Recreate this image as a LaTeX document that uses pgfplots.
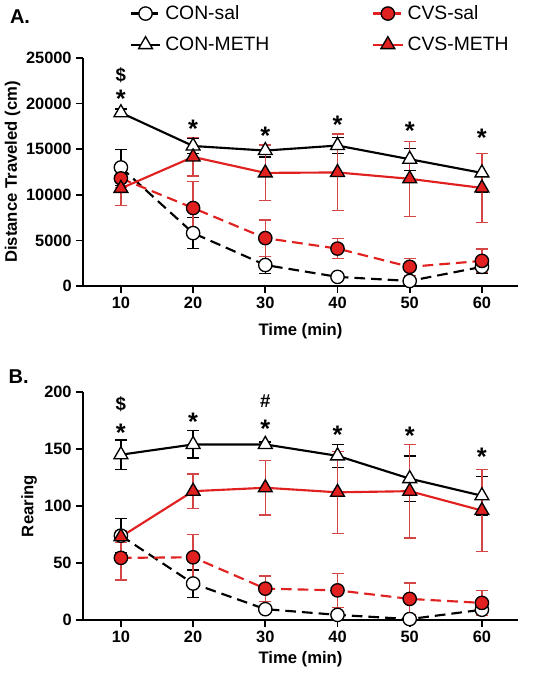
\documentclass[border=0pt]{standalone}
\usepackage{fontspec}
\setmainfont{Liberation Sans}
\usepackage{pgfplots}
\pgfplotsset{compat=1.18}
\definecolor{cvsred}{RGB}{225,32,32}
\definecolor{errred}{RGB}{212,70,70}

\tikzset{ann/.style={font=\fontsize{14}{16}\selectfont\bfseries, inner sep=0pt},
  ast/.style={font=\fontsize{19}{21}\selectfont\bfseries, inner sep=0pt, yshift=-4.3pt}}
\pgfplotsset{
  myax/.style={
    scale only axis, width=326.25pt, height=171pt,
    axis lines*=left, axis line style={line width=1.5pt},
    xmin=4.75, xmax=65, xtick={10,20,30,40,50,60},
    tick align=outside, major tick length=5pt,
    tick style={line width=1.3pt, black},
    ticklabel style={font=\fontsize{12.3}{14}\selectfont\bfseries},
    /pgf/number format/assume math mode=true,
    /pgf/number format/1000 sep={},
    scaled ticks=false,
    clip=false,
    xlabel={Time (min)},
    xlabel style={font=\fontsize{12.5}{15}\selectfont\bfseries},
    ylabel style={font=\fontsize{12.5}{15}\selectfont\bfseries},
    legend image code/.code={\draw[mark repeat=2,mark phase=2] plot coordinates {(0pt,0pt)(11pt,0pt)(22pt,0pt)};},
  },
  conerr/.style={error bars/.cd, y dir=both, y explicit,
    error bar style={black, line width=1pt, solid},
    error mark options={black, mark size=4.5pt, line width=1pt, rotate=90}},
  cvserr/.style={error bars/.cd, y dir=both, y explicit,
    error bar style={errred, line width=1pt, solid},
    error mark options={errred, mark size=4.5pt, line width=1pt, rotate=90}},
  consal/.style={black, line width=1.6pt, dash pattern=on 8pt off 4.5pt, mark=*, mark size=5pt, mark options={solid, fill=white, draw=black, line width=1pt}},
  conmeth/.style={black, line width=1.6pt, mark=triangle*, mark size=6pt, mark options={solid, fill=white, draw=black, line width=1pt}},
  cvssal/.style={cvsred, line width=1.6pt, dash pattern=on 8pt off 4.5pt, mark=*, mark size=5pt, mark options={solid, fill=cvsred, draw=black, line width=1pt}},
  cvsmeth/.style={cvsred, line width=1.6pt, mark=triangle*, mark size=6pt, mark options={solid, fill=cvsred, draw=black, line width=1pt}},
}

\begin{document}
\begin{tikzpicture}[x=1pt,y=1pt]
\useasboundingbox (0,0) rectangle (402,507.75);

% ---------- Panel A ----------
\begin{axis}[myax, at={(62.25pt,293.25pt)}, anchor=south west,
  ymin=0, ymax=25000, ytick={0,5000,10000,15000,20000,25000},
  ylabel={Distance Traveled (cm)},
  ylabel style={at={(axis description cs:-0.162,0.5)}, anchor=center, rotate=0},
  xlabel style={at={(axis description cs:0.5,-0.2)}, anchor=center},
  legend style={at={(axis description cs:0.107,1.237)}, anchor=north west, draw=none, fill=none,
    font=\fontsize{14.5}{16}\selectfont, row sep=9.5pt, inner sep=0pt,
    nodes={inner sep=1pt},
    /tikz/every odd column/.append style={column sep=2pt},
    /tikz/every even column/.append style={column sep=76pt}},
  legend cell align=left,
  legend columns=2, transpose legend,
]
\addplot+[consal, conerr] coordinates {
 (10,13000) +- (0,2000) (20,5800) +- (0,1700) (30,2300) +- (0,900)
 (40,1000) +- (0,250) (50,550) +- (0,300) (60,2100) +- (0,700)};
\addlegendentry{CON-sal}
\addplot+[conmeth, conerr] coordinates {
 (10,19000) +- (0,400) (20,15350) +- (0,800) (30,14850) +- (0,700)
 (40,15400) +- (0,850) (50,13900) +- (0,1200) (60,12400) +- (0,2100)};
\addlegendentry{CON-METH}
\addplot+[cvssal, cvserr] coordinates {
 (10,11800) +- (0,1000) (20,8550) +- (0,2900) (30,5250) +- (0,2000)
 (40,4100) +- (0,1100) (50,2100) +- (0,950) (60,2750) +- (0,1300)};
\addlegendentry{CVS-sal}
\addplot+[cvsmeth, cvserr] coordinates {
 (10,10700) +- (0,1900) (20,14150) +- (0,2100) (30,12400) +- (0,3050)
 (40,12450) +- (0,4200) (50,11750) +- (0,4100) (60,10750) +- (0,3800)};
\addlegendentry{CVS-METH}
\node[ann] at (axis cs:10,23150) {\$};
\node[ast] at (axis cs:10,21150) {*};
\node[ast] at (axis cs:20,17850) {*};
\node[ast] at (axis cs:30,17100) {*};
\node[ast] at (axis cs:40,18300) {*};
\node[ast] at (axis cs:50,17650) {*};
\node[ast] at (axis cs:60,16900) {*};
\end{axis}

% ---------- Panel B ----------
\begin{axis}[myax, at={(62.25pt,42.75pt)}, anchor=south west,
  ymin=0, ymax=200, ytick={0,50,100,150,200},
  ylabel={Rearing},
  ylabel style={at={(axis description cs:-0.124,0.5)}, anchor=center},
  xlabel style={at={(axis description cs:0.5,-0.171)}, anchor=center},
]
\addplot+[consal, conerr] coordinates {
 (10,74) +- (0,15) (20,32) +- (0,12) (30,9.5) +- (0,3)
 (40,4.5) +- (0,2) (50,0.8) +- (0,1) (60,9) +- (0,3)};
\addplot+[conmeth, conerr] coordinates {
 (10,145) +- (0,13) (20,154) +- (0,12) (30,154) +- (0,2)
 (40,144) +- (0,10) (50,124) +- (0,20) (60,109) +- (0,17)};
\addplot+[cvssal, cvserr] coordinates {
 (10,54.5) +- (0,19.5) (20,55) +- (0,20) (30,27.5) +- (0,11)
 (40,26) +- (0,15) (50,18.5) +- (0,14) (60,15) +- (0,11)};
\addplot+[cvsmeth, cvserr] coordinates {
 (10,73) +- (0,5) (20,113) +- (0,15) (30,116) +- (0,24)
 (40,112) +- (0,36) (50,113) +- (0,41) (60,96) +- (0,36)};
\node[ann] at (axis cs:10,189) {\$};
\node[ast] at (axis cs:10,169) {*};
\node[ast] at (axis cs:20,179) {*};
\node[ann] at (axis cs:30,192) {\#};
\node[ast] at (axis cs:30,172.5) {*};
\node[ast] at (axis cs:40,167.5) {*};
\node[ast] at (axis cs:50,166.7) {*};
\node[ast] at (axis cs:60,148) {*};
\end{axis}

\node[font=\fontsize{15}{17}\selectfont\bfseries] at (15,495) {A.};
\node[font=\fontsize{15}{17}\selectfont\bfseries] at (14,225) {B.};
\end{tikzpicture}
\end{document}
